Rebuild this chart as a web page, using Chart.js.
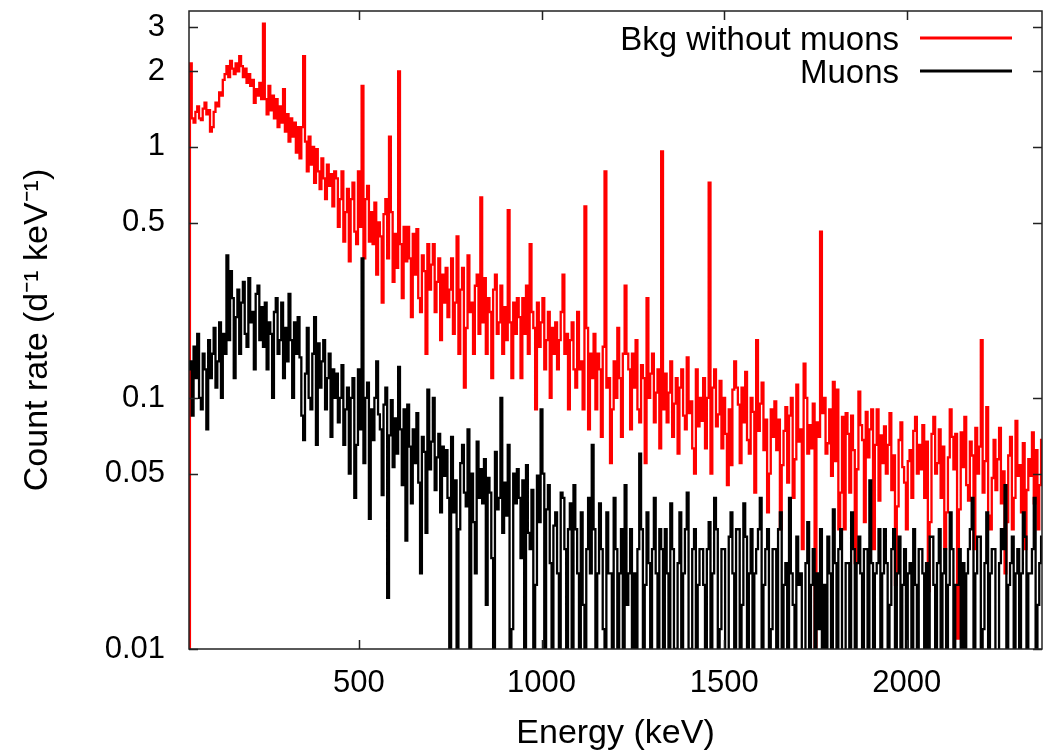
<!DOCTYPE html>
<html>
<head>
<meta charset="utf-8">
<script src="https://cdn.jsdelivr.net/npm/chart.js@4.4.1/dist/chart.umd.min.js"></script>
<style>
  html, body { margin: 0; padding: 0; background: #fff; }
</style>
</head>
<body>
<canvas id="chart" width="1043" height="751"></canvas>
<script>
// histogram bins: 5 keV wide, centres from 30 keV to 2370 keV
const binStart = 30;
const binWidth = 5;

// count rate (d^-1 keV^-1), background spectrum with muon events removed
const bkgWithoutMuons = [
  0.004, 0.004,                                                                                       // 30-35
  2.15, 1.3, 1.25, 1.38, 1.45, 1.3, 1.28, 1.42, 1.5, 1.35, 1.4, 1.15, 1.2, 1.38, 1.5, 1.45, 1.65, 1.6, 1.85, 1.95,       // 40-135
  2.1, 1.9, 2.2, 2.05, 1.95, 2.15, 2.0, 2.3, 2.1, 1.9, 2.05, 1.8, 1.95, 1.75, 1.85, 1.5, 1.7, 1.6, 1.8, 1.55,            // 140-235
  3.1, 1.55, 1.35, 1.75, 1.4, 1.6, 1.3, 1.55, 1.2, 1.45, 1.25, 1.7, 1.15, 1.35, 1.05, 1.3, 1.1, 1.25, 0.95, 1.2,         // 240-335
  0.9, 1.2, 2.3, 1.05, 0.8, 1.1, 0.85, 1.0, 0.72, 0.98, 0.8, 0.68, 0.9, 0.75, 0.62, 0.85, 0.7, 0.78, 0.58, 0.8,          // 340-435
  0.75, 0.48, 0.62, 0.8, 0.42, 0.55, 0.68, 0.35, 0.62, 0.72, 0.46, 0.41, 0.8, 0.48, 1.75, 0.36, 0.62, 0.7, 0.42, 0.55,   // 440-535
  0.41, 0.6, 0.31, 0.5, 0.44, 0.24, 0.54, 0.62, 0.36, 1.1, 0.55, 0.29, 0.45, 0.33, 2.0, 0.41, 0.25, 0.48, 0.35, 0.48,    // 540-635
  0.36, 0.21, 0.45, 0.31, 0.47, 0.25, 0.22, 0.37, 0.32, 0.15, 0.41, 0.27, 0.34, 0.41, 0.22, 0.29, 0.36, 0.17, 0.31, 0.24, // 640-735
  0.33, 0.21, 0.27, 0.36, 0.18, 0.24, 0.44, 0.15, 0.27, 0.33, 0.11, 0.19, 0.37, 0.22, 0.24, 0.15, 0.28, 0.31, 0.18, 0.63, // 740-835
  0.2, 0.3, 0.15, 0.25, 0.22, 0.12, 0.27, 0.31, 0.18, 0.2, 0.28, 0.15, 0.23, 0.17, 0.56, 0.2, 0.12, 0.24, 0.18, 0.25,    // 840-935
  0.21, 0.12, 0.25, 0.18, 0.28, 0.15, 0.41, 0.22, 0.19, 0.09, 0.24, 0.16, 0.2, 0.25, 0.13, 0.17, 0.22, 0.1, 0.19, 0.15,  // 940-1035
  0.2, 0.13, 0.17, 0.22, 0.31, 0.15, 0.18, 0.09, 0.17, 0.2, 0.13, 0.11, 0.22, 0.13, 0.14, 0.09, 0.58, 0.19, 0.075, 0.15, // 1040-1135
  0.12, 0.18, 0.09, 0.15, 0.13, 0.07, 0.16, 0.8, 0.11, 0.12, 0.055, 0.09, 0.14, 0.1, 0.19, 0.12, 0.07, 0.15, 0.28, 0.15, // 1140-1235
  0.13, 0.075, 0.15, 0.11, 0.17, 0.09, 0.08, 0.135, 0.12, 0.055, 0.25, 0.1, 0.125, 0.15, 0.08, 0.105, 0.13, 0.063, 0.96, 0.09, // 1240-1335
  0.125, 0.08, 0.105, 0.14, 0.07, 0.095, 0.12, 0.06, 0.11, 0.13, 0.085, 0.075, 0.145, 0.087, 0.097, 0.063, 0.05, 0.13, 0.077, 0.1, // 1340-1435
  0.081, 0.12, 0.063, 0.1, 0.72, 0.05, 0.11, 0.13, 0.077, 0.086, 0.117, 0.063, 0.1, 0.072, 0.045, 0.09, 0.054, 0.108, 0.14, 0.11, // 1440-1535
  0.094, 0.055, 0.11, 0.08, 0.127, 0.068, 0.06, 0.1, 0.088, 0.042, 0.17, 0.074, 0.095, 0.115, 0.062, 0.082, 0.035, 0.05, 0.09, 0.07, // 1540-1635
  0.097, 0.062, 0.082, 0.03, 0.054, 0.074, 0.092, 0.046, 0.085, 0.1, 0.04, 0.057, 0.113, 0.067, 0.075, 0.025, 0.137, 0.1, 0.06, 0.078, // 1640-1735
  0.063, 0.095, 0.008, 0.08, 0.07, 0.46, 0.087, 0.1, 0.06, 0.066, 0.09, 0.049, 0.116, 0.056, 0.108, 0.03, 0.042, 0.084, 0.03, 0.087, // 1740-1835
  0.072, 0.042, 0.085, 0.062, 0.022, 0.052, 0.106, 0.078, 0.068, 0.032, 0.088, 0.058, 0.075, 0.09, 0.025, 0.065, 0.09, 0.039, 0.071, 0.055, // 1840-1935
  0.077, 0.05, 0.065, 0.087, 0.043, 0.059, 0.018, 0.037, 0.068, 0.08, 0.053, 0.046, 0.03, 0.056, 0.062, 0.04, 0.074, 0.084, 0.05, 0.065, // 1940-2035
  0.052, 0.078, 0.04, 0.067, 0.017, 0.032, 0.072, 0.084, 0.05, 0.055, 0.075, 0.04, 0.064, 0.025, 0.035, 0.058, 0.09, 0.07, 0.052, 0.072, // 2040-2135
  0.011, 0.036, 0.073, 0.053, 0.084, 0.045, 0.039, 0.067, 0.059, 0.025, 0.076, 0.05, 0.064, 0.17, 0.042, 0.056, 0.092, 0.034, 0.03, 0.048, // 2140-2235
  0.068, 0.043, 0.057, 0.076, 0.038, 0.051, 0.02, 0.032, 0.059, 0.07, 0.03, 0.04, 0.081, 0.049, 0.054, 0.035, 0.066, 0.025, 0.043, 0.057, // 2240-2335
  0.049, 0.073, 0.038, 0.062, 0.03, 0.045, 0.068                                                                                    // 2340-2370
];

// count rate of the muon-tagged events
const muons = [
  0.13, 0.13,                                                                                          // 30-35
  0.14, 0.085, 0.16, 0.12, 0.18, 0.1, 0.09, 0.15, 0.13, 0.075, 0.17, 0.12, 0.15, 0.19, 0.11, 0.14, 0.2, 0.1, 0.18, 0.15, // 40-135
  0.37, 0.17, 0.32, 0.25, 0.12, 0.21, 0.27, 0.15, 0.24, 0.29, 0.18, 0.16, 0.3, 0.2, 0.22, 0.13, 0.26, 0.28, 0.17, 0.23,  // 140-235
  0.16, 0.24, 0.13, 0.2, 0.18, 0.1, 0.22, 0.25, 0.15, 0.17, 0.24, 0.12, 0.19, 0.14, 0.26, 0.17, 0.1, 0.2, 0.15, 0.21,    // 240-335
  0.145, 0.085, 0.068, 0.125, 0.19, 0.1, 0.09, 0.15, 0.21, 0.065, 0.165, 0.11, 0.14, 0.17, 0.09, 0.12, 0.15, 0.07, 0.13, 0.1, // 340-435
  0.125, 0.08, 0.1, 0.135, 0.065, 0.09, 0.11, 0.05, 0.1, 0.12, 0.04, 0.065, 0.13, 0.075, 0.36, 0.055, 0.1, 0.115, 0.033, 0.09, // 440-535
  0.068, 0.1, 0.14, 0.086, 0.075, 0.041, 0.094, 0.11, 0.016, 0.071, 0.098, 0.053, 0.083, 0.06, 0.133, 0.075, 0.045, 0.09, 0.027, 0.094, // 540-635
  0.064, 0.038, 0.075, 0.055, 0.087, 0.046, 0.02, 0.07, 0.061, 0.029, 0.108, 0.052, 0.067, 0.1, 0.043, 0.058, 0.072, 0.035, 0.064, 0.049, // 640-735
  0.062, 0.04, 0.006, 0.07, 0.035, 0.047, 0.006, 0.03, 0.055, 0.065, 0.042, 0.037, 0.075, 0.006, 0.05, 0.032, 0.02, 0.067, 0.04, 0.052, // 740-835
  0.038, 0.057, 0.015, 0.048, 0.042, 0.023, 0.006, 0.061, 0.036, 0.04, 0.1, 0.029, 0.046, 0.034, 0.065, 0.006, 0.012, 0.05, 0.038, 0.052, // 840-935
  0.04, 0.023, 0.047, 0.006, 0.054, 0.029, 0.025, 0.043, 0.008, 0.018, 0.049, 0.032, 0.09, 0.05, 0.006, 0.036, 0.045, 0.022, 0.006, 0.031, // 940-1035
  0.035, 0.02, 0.006, 0.042, 0.04, 0.025, 0.006, 0.03, 0.038, 0.006, 0.045, 0.03, 0.02, 0.006, 0.035, 0.015, 0.006, 0.025, 0.04, 0.02, // 1040-1135
  0.065, 0.03, 0.006, 0.02, 0.038, 0.025, 0.012, 0.006, 0.035, 0.02, 0.02, 0.006, 0.04, 0.025, 0.006, 0.02, 0.03, 0.006, 0.045, 0.015, // 1140-1235
  0.02, 0.03, 0.006, 0.02, 0.006, 0.025, 0.06, 0.03, 0.006, 0.018, 0.035, 0.022, 0.006, 0.025, 0.04, 0.02, 0.006, 0.03, 0.025, 0.006, // 1240-1335
  0.03, 0.02, 0.006, 0.038, 0.025, 0.01, 0.006, 0.022, 0.035, 0.006, 0.02, 0.03, 0.042, 0.006, 0.01, 0.025, 0.03, 0.006, 0.018, 0.025, // 1340-1435
  0.025, 0.018, 0.006, 0.025, 0.032, 0.006, 0.02, 0.04, 0.03, 0.006, 0.012, 0.025, 0.025, 0.006, 0.006, 0.028, 0.035, 0.02, 0.006, 0.03, // 1440-1535
  0.03, 0.006, 0.015, 0.038, 0.028, 0.006, 0.02, 0.03, 0.006, 0.02, 0.025, 0.03, 0.04, 0.006, 0.018, 0.025, 0.03, 0.006, 0.012, 0.025, // 1540-1635
  0.025, 0.006, 0.03, 0.035, 0.006, 0.018, 0.022, 0.006, 0.04, 0.02, 0.015, 0.006, 0.028, 0.018, 0.02, 0.006, 0.006, 0.022, 0.032, 0.006, // 1640-1735
  0.018, 0.025, 0.006, 0.02, 0.012, 0.03, 0.006, 0.018, 0.006, 0.028, 0.02, 0.006, 0.036, 0.022, 0.006, 0.025, 0.03, 0.006, 0.006, 0.022, // 1740-1835
  0.022, 0.006, 0.035, 0.025, 0.006, 0.022, 0.028, 0.02, 0.006, 0.025, 0.025, 0.006, 0.047, 0.022, 0.006, 0.02, 0.022, 0.03, 0.006, 0.02, // 1840-1935
  0.03, 0.022, 0.006, 0.015, 0.025, 0.03, 0.006, 0.02, 0.028, 0.006, 0.018, 0.025, 0.006, 0.02, 0.022, 0.006, 0.03, 0.018, 0.006, 0.025, // 1940-2035
  0.025, 0.02, 0.006, 0.022, 0.006, 0.028, 0.028, 0.018, 0.006, 0.022, 0.03, 0.006, 0.02, 0.025, 0.006, 0.018, 0.035, 0.025, 0.006, 0.018, // 2040-2135
  0.018, 0.025, 0.006, 0.022, 0.006, 0.02, 0.025, 0.03, 0.04, 0.006, 0.02, 0.028, 0.028, 0.006, 0.012, 0.022, 0.035, 0.006, 0.02, 0.025, // 2140-2235
  0.025, 0.006, 0.006, 0.022, 0.03, 0.025, 0.045, 0.006, 0.018, 0.022, 0.028, 0.006, 0.02, 0.025, 0.006, 0.02, 0.035, 0.028, 0.006, 0.02, // 2240-2335
  0.02, 0.025, 0.04, 0.006, 0.015, 0.022, 0.028                                                                                           // 2340-2370
];

const xTicks = [500, 1000, 1500, 2000];
const yTicks = [0.01, 0.05, 0.1, 0.5, 1, 2, 3];

const FONT = "'Liberation Sans', Arial, Helvetica, sans-serif";

function toPoints(values) {
  return values.map((v, i) => ({ x: binStart + i * binWidth, y: v }));
}

// gnuplot-like frame: border, inward ticks on all four sides, legend inside top right
const gnuplotFrame = {
  id: 'gnuplotFrame',
  afterDatasetsDraw(chart) {
    const { ctx, chartArea: a, scales } = chart;
    ctx.save();
    ctx.strokeStyle = '#222';
    ctx.lineWidth = 1.5;
    ctx.strokeRect(a.left, a.top, a.right - a.left, a.bottom - a.top);
    ctx.beginPath();
    xTicks.forEach(v => {
      const x = Math.round(scales.x.getPixelForValue(v)) + 0.5;
      ctx.moveTo(x, a.bottom); ctx.lineTo(x, a.bottom - 9);
      ctx.moveTo(x, a.top); ctx.lineTo(x, a.top + 9);
    });
    yTicks.forEach(v => {
      const y = Math.round(scales.y.getPixelForValue(v)) + 0.5;
      ctx.moveTo(a.left, y); ctx.lineTo(a.left + 9, y);
      ctx.moveTo(a.right, y); ctx.lineTo(a.right - 9, y);
    });
    ctx.stroke();

    // legend
    ctx.font = '33px ' + FONT;
    ctx.textAlign = 'right';
    ctx.textBaseline = 'alphabetic';
    chart.data.datasets.forEach((ds, i) => {
      const base = 50 + i * 33;
      ctx.fillStyle = '#000';
      ctx.fillText(ds.label, 899, base);
      ctx.strokeStyle = ds.borderColor;
      ctx.lineWidth = 3;
      ctx.beginPath();
      ctx.moveTo(920, base - 12);
      ctx.lineTo(1012, base - 12);
      ctx.stroke();
    });
    ctx.restore();
  }
};

new Chart(document.getElementById('chart'), {
  type: 'line',
  data: {
    datasets: [
      {
        label: 'Bkg without muons',
        data: toPoints(bkgWithoutMuons),
        borderColor: '#ff0000',
        borderWidth: 2.3,
        pointRadius: 0,
        stepped: 'middle',
        order: 1
      },
      {
        label: 'Muons',
        data: toPoints(muons),
        borderColor: '#000000',
        borderWidth: 2.3,
        pointRadius: 0,
        stepped: 'middle',
        order: 0
      }
    ]
  },
  plugins: [gnuplotFrame],
  options: {
    responsive: false,
    animation: false,
    layout: { padding: { top: 11, right: 1, bottom: 0, left: 0 } },
    plugins: {
      legend: { display: false },
      tooltip: { enabled: false }
    },
    scales: {
      x: {
        type: 'linear',
        min: 35,
        max: 2370,
        afterBuildTicks: s => { s.ticks = xTicks.map(v => ({ value: v })); },
        afterFit: s => { s.height = 102; s.paddingLeft = 0; s.paddingRight = 0; },
        grid: { display: false, drawTicks: false },
        border: { display: false },
        ticks: {
          autoSkip: false, maxRotation: 0, padding: 16, color: '#000',
          font: { family: FONT, size: 31 },
          callback: v => String(v)
        },
        title: {
          display: true, text: 'Energy (keV)', color: '#000',
          font: { family: FONT, size: 34 },
          padding: { top: 0, bottom: -3 }
        }
      },
      y: {
        type: 'logarithmic',
        min: 0.01,
        max: 3.48,
        afterBuildTicks: s => { s.ticks = yTicks.map(v => ({ value: v })); },
        afterFit: s => { s.width = 189; s.paddingTop = 0; s.paddingBottom = 0; },
        grid: { display: false, drawTicks: false },
        border: { display: false },
        ticks: {
          autoSkip: false, padding: 24, color: '#000',
          font: { family: FONT, size: 31 },
          callback: v => String(v)
        },
        title: {
          display: true, text: 'Count rate (d⁻¹ keV⁻¹)', color: '#000',
          font: { family: FONT, size: 34 },
          padding: { top: 17, bottom: 0 }
        }
      }
    }
  }
});
</script>
</body>
</html>
